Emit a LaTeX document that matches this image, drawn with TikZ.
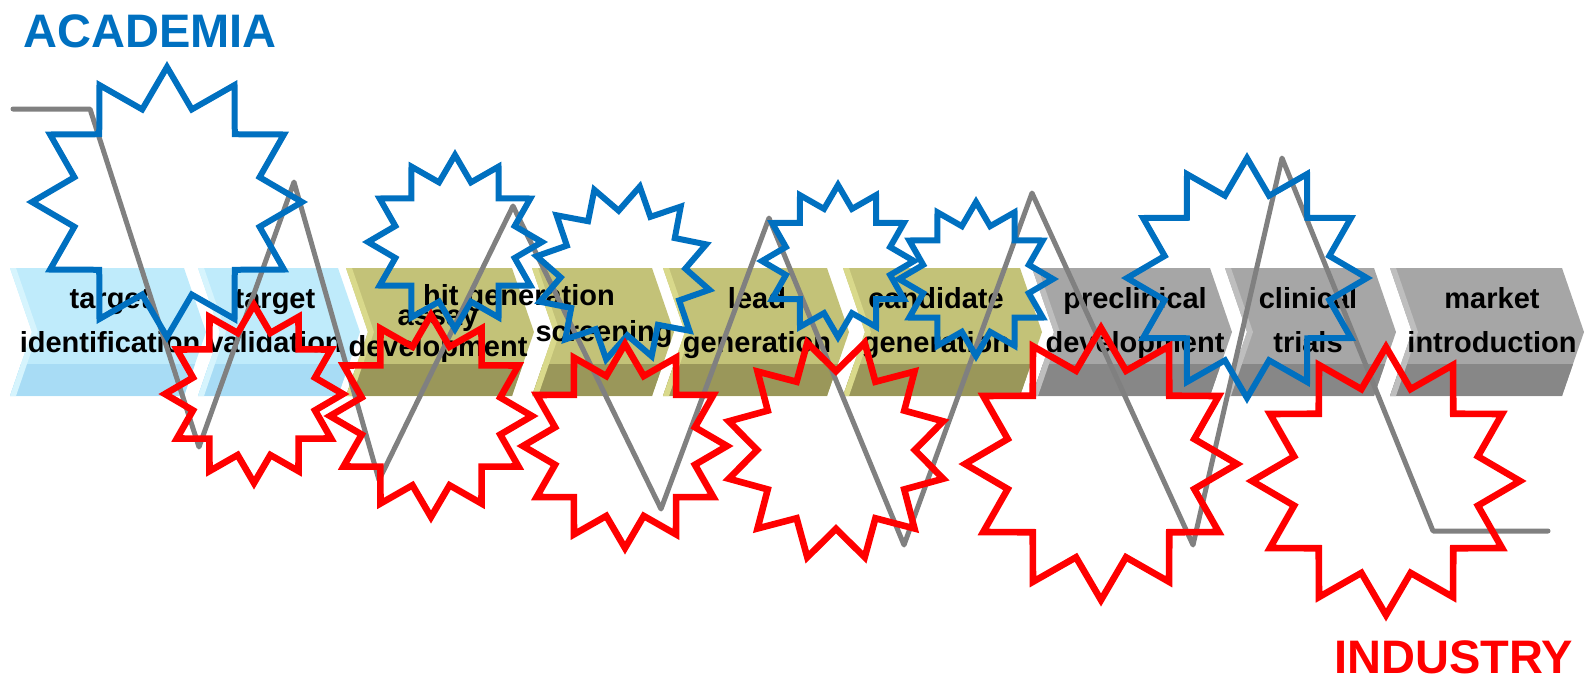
\documentclass[tikz,border=0pt]{standalone}
\usepackage{fontspec}
\setmainfont{Liberation Sans}
\usepackage{tikz}

\definecolor{acadblue}{HTML}{0070C0}
\definecolor{indred}{HTML}{FF0000}
\definecolor{zigzag}{HTML}{808080}
\definecolor{topblue}{HTML}{BFEBFB}
\definecolor{bandblue}{HTML}{A8DCF5}
\definecolor{notchblue}{HTML}{D6F4FD}
\definecolor{topolive}{HTML}{C3C278}
\definecolor{bandolive}{HTML}{9A975A}
\definecolor{notcholive}{HTML}{D9D98B}
\definecolor{topgray}{HTML}{A6A6A6}
\definecolor{bandgray}{HTML}{878787}
\definecolor{notchgray}{HTML}{BEBEBE}

\begin{document}
\begin{tikzpicture}[x=0.5pt,y=-0.5pt,
    stage/.style={font=\bfseries\fontsize{14.5}{22}\selectfont,inner sep=0pt,anchor=base},
    title/.style={font=\bfseries\fontsize{23.5}{27}\selectfont,inner sep=0pt},
    academia star/.style={draw=acadblue,line width=3pt},
    industry star/.style={draw=indred,line width=3.3pt},
    zigzag line/.style={draw=zigzag,line width=2.5pt,line cap=round,line join=round}]

    \useasboundingbox (0,0) rectangle (1586,681);

    % chevrons of the pipeline
    \foreach \xa/\xb/\c in {10/184/blue,198/338/blue,346/512/olive,532/652/olive,
        663/827/olive,843/1020/olive,1032/1210/gray,1225/1374/gray,1390/1562/gray}{
        \fill[top\c] (\xa,268) -- (\xb,268) -- (\xb+22,332) -- (\xb,396) -- (\xa,396) -- (\xa+22,332) -- cycle;
        \begin{scope}
            \clip (\xa,268) -- (\xb,268) -- (\xb+22,332) -- (\xb,396) -- (\xa,396) -- (\xa+22,332) -- cycle;
            \fill[band\c] (\xa,364) rectangle (\xb+22,396);
        \end{scope}
        \fill[notch\c] (\xa,268) -- (\xa+6,268) -- (\xa+28,332) -- (\xa+6,396) -- (\xa,396) -- (\xa+22,332) -- cycle;
    }

    % stage labels
    \node[stage] (tid1) at (110,308) {target};
    \node[stage] (tid2) at (110,352) {identification};
    \node[stage] (tva1) at (275,308) {target};
    \node[stage] (tva2) at (275,352) {validation};
    \node[stage] (hit) at (519,305) {hit generation};
    \node[stage] (ass1) at (438,325) {assay};
    \node[stage] (ass2) at (438,356) {development};
    \node[stage] (scr) at (604,341) {screening};
    \node[stage] (lead1) at (757,308) {lead};
    \node[stage] (lead2) at (757,352) {generation};
    \node[stage] (cand1) at (936,308) {candidate};
    \node[stage] (cand2) at (936,352) {generation};
    \node[stage] (pre1) at (1135,308) {preclinical};
    \node[stage] (pre2) at (1135,352) {development};
    \node[stage] (cli1) at (1308,308) {clinical};
    \node[stage] (cli2) at (1308,352) {trials};
    \node[stage] (mkt1) at (1492,308) {market};
    \node[stage] (mkt2) at (1492,352) {introduction};

    % zigzag between academia and industry
    \draw[zigzag line] (13,109) -- (90,109) -- (199,447) -- (294,182) -- (379,480) -- (513,206)
        -- (661,509) -- (769,218) -- (904,545) -- (1032,193) -- (1193,545) -- (1282,158)
        -- (1433,531) -- (1548,531);

    % bursts
    \foreach \cx/\cy/\r/\a in {167/202/135/-90,455/242/87/-90,623/273/88/-79,
        838/261/76/-90,976/279/77/-90,1247/278/120/-90}
        \draw[academia star,shift={(\cx,\cy)}] (\a:\r)
            \foreach \k in {1,...,23}{ -- ({\a+15*\k}:{\r*(1-0.29*mod(\k,2))}) } -- cycle;
    \foreach \cx/\cy/\r/\a in {254/394/89/-90,431/416/101/-90,625/446/102/-90,
        836/450/111/-75,1101/464/136/-90,1386/481/134/-90}
        \draw[industry star,shift={(\cx,\cy)}] (\a:\r)
            \foreach \k in {1,...,23}{ -- ({\a+15*\k}:{\r*(1-0.29*mod(\k,2))}) } -- cycle;

    \node[title,text=acadblue] (acad) at (150,31) {ACADEMIA};
    \node[title,text=indred] (ind) at (1454,657) {INDUSTRY};
\end{tikzpicture}
\end{document}
